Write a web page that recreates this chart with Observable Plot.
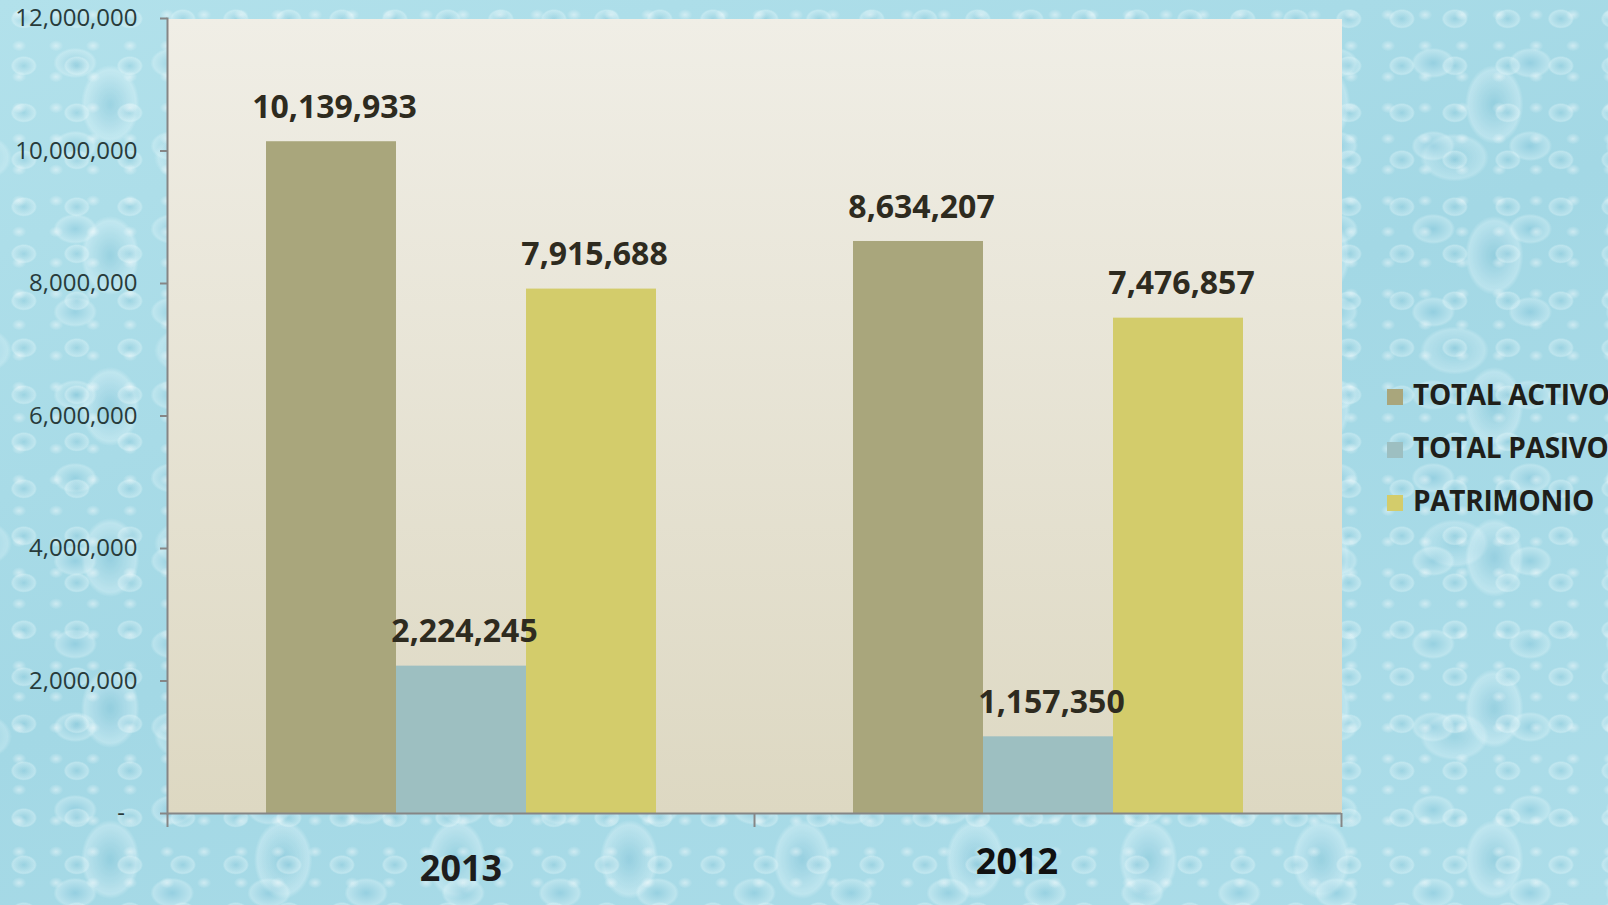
<!DOCTYPE html>
<html>
<head>
<meta charset="utf-8">
<script src="https://cdn.jsdelivr.net/npm/d3@7"></script>
<script src="https://cdn.jsdelivr.net/npm/@observablehq/plot@0.6"></script>
<style>
  html, body { margin: 0; padding: 0; }
  body {
    width: 1608px; height: 905px; overflow: hidden; position: relative;
    font-family: "Open Sans", sans-serif;
    background:
      radial-gradient(ellipse 9px 7px at 38% 38%, rgba(255,255,255,0.45), rgba(255,255,255,0) 80%) 5px 3px / 37px 31px,
      radial-gradient(ellipse 16px 12px at 45% 40%, rgba(125,192,212,0.30), rgba(235,250,252,0.35) 70%, rgba(255,255,255,0) 82%) 0 0 / 53px 47px,
      radial-gradient(ellipse 26px 18px at 60% 65%, rgba(110,185,210,0.30), rgba(235,250,252,0.30) 72%, rgba(255,255,255,0) 84%) 17px 9px / 97px 83px,
      radial-gradient(ellipse 34px 46px at 40% 50%, rgba(105,180,205,0.28), rgba(240,252,255,0.30) 75%, rgba(255,255,255,0) 86%) 41px 29px / 173px 151px,
      radial-gradient(ellipse 40px 28px at 50% 50%, rgba(115,188,210,0.22), rgba(240,252,255,0.25) 75%, rgba(255,255,255,0) 86%) 83px 61px / 211px 193px,
      linear-gradient(160deg, #b2e1eb, #a3d8e5 50%, #acdde9);
  }
  #chart { position: absolute; left: 0; top: 0; }
  #legend { position: absolute; left: 1387px; top: 367px; }
  .item { display: flex; align-items: center; height: 53px; margin-top: 0; }
  .item .sw { width: 16px; height: 16px; margin-right: 10px; margin-top: 6px; }
  .item .lb { font-family: "Open Sans", sans-serif; font-weight: 700; font-size: 28px; color: #1f1f1a; letter-spacing: -0.3px; white-space: nowrap; line-height: 28px; }
</style>
</head>
<body>
<div id="chart"></div>
<div id="legend"></div>
<script>
// ---- data ----
const years = ["2013", "2012"];
const series = ["TOTAL ACTIVO", "TOTAL PASIVO", "PATRIMONIO"];
const values2013 = [10139933, 2224245, 7915688];
const values2012 = [8634207, 1157350, 7476857];
const colors = ["#a9a67c", "#9dbfc1", "#d3cc6b"];
const yTicks = [0, 2000000, 4000000, 6000000, 8000000, 10000000, 12000000];

const valuesByYear = {"2013": values2013, "2012": values2012};
const table = years.flatMap(y => series.map((s, i) => ({year: y, series: s, value: valuesByYear[y][i]})));

const W = 1608, H = 905;
const mL = 167, mR = 267, mT = 18, mB = 92;
const half = (W - mL - mR) / 4;
const fmt = d3.format(",");
const axisGray = "#868686";

const plot = Plot.plot({
  width: W,
  height: H,
  marginLeft: mL,
  marginRight: mR,
  marginTop: mT,
  marginBottom: mB,
  style: {background: "transparent", fontFamily: "'Open Sans', sans-serif", overflow: "visible"},
  fx: {domain: years, padding: 0},
  x: {domain: series, paddingInner: 0, paddingOuter: 0.75, axis: null},
  y: {domain: [0, 12000000]},
  color: {domain: series, range: colors},
  marks: [
    Plot.frame({fill: "url(#plotbg)", stroke: "none", shapeRendering: "crispEdges"}),
    Plot.barY(table, {fx: "year", x: "series", y: "value", fill: "series"}),
    Plot.ruleY([0], {stroke: axisGray, strokeWidth: 2}),
    Plot.frame({anchor: "left", facetAnchor: "left", stroke: axisGray, strokeWidth: 2}),
    Plot.axisY({
      ticks: yTicks, tickSize: 7, tickPadding: 23, fontSize: 24,
      stroke: axisGray, strokeWidth: 2, fill: "#283b3b", label: null,
      tickFormat: d => d === 0 ? "-\u00a0\u00a0" : fmt(d)
    }),
    Plot.axisFx({anchor: "bottom", tickSize: 14, tickFormat: () => "", dx: -half, stroke: axisGray, strokeWidth: 2, label: null}),
    Plot.axisFx({anchor: "bottom", ticks: ["2012"], tickSize: 14, tickFormat: () => "", dx: half, stroke: axisGray, strokeWidth: 2, label: null}),
    Plot.axisFx({anchor: "bottom", ticks: ["2013"], tickSize: 0, tickPadding: 42, fontSize: 36, fontWeight: "bold", fill: "#1d1d1d", label: null}),
    Plot.axisFx({anchor: "bottom", ticks: ["2012"], tickSize: 0, tickPadding: 35, dx: -31, fontSize: 36, fontWeight: "bold", fill: "#111", label: null}),
    Plot.text(table, {
      fx: "year", x: "series", y: "value", text: d => fmt(d.value),
      dy: -34, dx: 3, fontSize: 32, fontWeight: "bold", fill: "#2e2b1f"
    })
  ]
});

// gradient for plot-area background (vertical, so it is seamless across facets)
const svgNS = "http://www.w3.org/2000/svg";
const defs = document.createElementNS(svgNS, "defs");
defs.innerHTML = `<linearGradient id="plotbg" x1="0" y1="0" x2="0" y2="1">
  <stop offset="0" stop-color="#f0eee6"/>
  <stop offset="1" stop-color="#ddd8c2"/>
</linearGradient>`;
plot.insertBefore(defs, plot.firstChild);

document.getElementById("chart").appendChild(plot);

// legend
const legend = d3.select("#legend");
series.forEach((s, i) => {
  const it = legend.append("div").attr("class", "item");
  it.append("div").attr("class", "sw").style("background", colors[i]);
  it.append("div").attr("class", "lb").text(s);
});
</script>
</body>
</html>
